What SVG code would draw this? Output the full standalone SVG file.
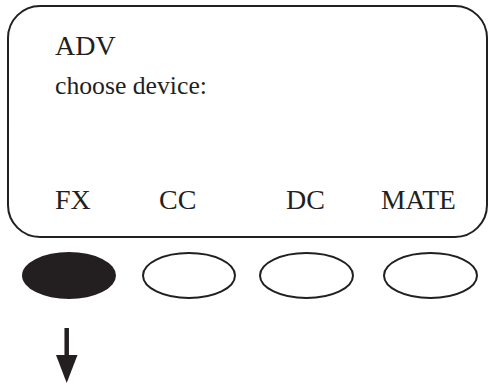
<svg xmlns="http://www.w3.org/2000/svg" width="489" height="388" viewBox="0 0 489 388">
<style>
.t{font-family:"Liberation Serif","Times New Roman",serif;fill:#231f20}
.btn{fill:#fff;stroke:#231f20;stroke-width:2}
</style>
<g id="display">
<rect x="8" y="6" width="479" height="231" rx="32" ry="32" fill="#fff" stroke="#231f20" stroke-width="2"/>
<text class="t" x="55" y="55" font-size="28">ADV</text>
<text class="t" x="55" y="94" font-size="25.7">choose device:</text>
<text class="t" x="55" y="209" font-size="28">FX</text>
<text class="t" x="159" y="209" font-size="28">CC</text>
<text class="t" x="286" y="209" font-size="28">DC</text>
<text class="t" x="381" y="209" font-size="27.5">MATE</text>
</g>
<g id="btn-fx"><ellipse cx="69" cy="275.5" rx="47" ry="23.5" fill="#231f20"/></g>
<g id="btn-cc"><ellipse class="btn" cx="189" cy="275.5" rx="46" ry="22.5"/></g>
<g id="btn-dc"><ellipse class="btn" cx="306.5" cy="275.5" rx="46.5" ry="22.5"/></g>
<g id="btn-mate"><ellipse class="btn" cx="430.5" cy="275.5" rx="46.5" ry="22.5"/></g>
<g id="connectors">
<line x1="66.7" y1="328" x2="66.7" y2="358" stroke="#231f20" stroke-width="4.5"/>
<polygon points="56,355 77.5,355 66.7,383" fill="#231f20"/>
</g>
</svg>
